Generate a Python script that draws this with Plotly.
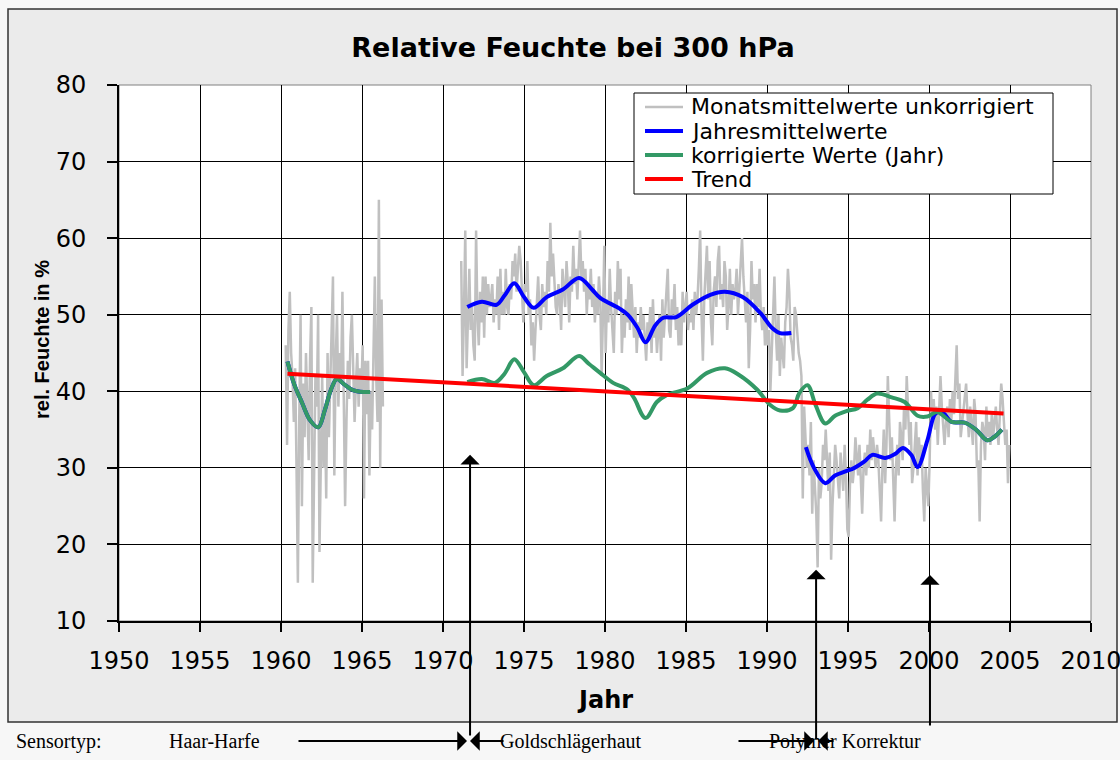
import plotly.graph_objects as go

# ---- uncorrected monthly means of relative humidity at 300 hPa (%) ----
# Haar-Harfe period, April 1960 - April 1966
monthly_1960 = [
    46, 33, 48, 53, 45, 42, 36, 43, 30,
    15, 36, 50, 25, 41, 34, 45, 38, 31, 44, 51, 15,
    33, 42, 38, 50, 19, 28, 42, 30, 38, 26, 45, 34,
    40, 47, 55, 29, 44, 50, 38, 45, 41, 53, 42, 25,
    36, 44, 39, 47, 50, 42, 36, 41, 45, 38, 43, 40,
    46, 26, 44, 37, 44, 29, 40, 35, 45, 55, 42, 36,
    65, 30, 52, 38,
]
# Goldschlaegerhaut period, February 1971 - December 1991
monthly_1971 = [
    57, 42, 50, 61, 43, 52, 56, 48, 51, 46, 44,
    61, 50, 46, 53, 49, 55, 47, 55, 50, 54, 51, 52,
    54, 49, 52, 50, 55, 48, 56, 50, 53, 50, 56, 51,
    50, 54, 52, 57, 55, 58, 53, 56, 59, 57, 52, 49,
    54, 53, 57, 50, 52, 46, 49, 44, 48, 51, 55, 50,
    48, 54, 51, 53, 50, 57, 53, 62, 55, 58, 54, 51,
    50, 54, 52, 48, 56, 53, 51, 57, 54, 49, 55, 53,
    59, 54, 56, 52, 58, 61, 55, 57, 53, 56, 50, 54,
    52, 56, 51, 54, 49, 53, 50, 55, 52, 42, 50, 59,
    45, 52, 49, 56, 51, 48, 45, 53, 50, 57, 52, 56,
    45, 50, 47, 52, 49, 55, 48, 54, 50, 47, 51, 45,
    49, 47, 51, 48, 50, 46, 44, 49, 47, 51, 45, 52,
    47, 49, 45, 48, 50, 44, 52, 47, 50, 54, 56, 48,
    47, 52, 50, 54, 48, 51, 46, 50, 46, 53, 49, 51,
    53, 48, 50, 49, 52, 48, 53, 50, 52, 56, 61, 50,
    44, 52, 56, 59, 52, 57, 49, 46, 53, 55, 51, 57,
    59, 52, 54, 51, 57, 55, 48, 51, 56, 50, 54, 52,
    53, 56, 50, 54, 57, 60, 55, 52, 49, 53, 43, 48,
    57, 52, 54, 49, 54, 51, 56, 50, 48, 51, 46, 50,
    46, 48, 40, 45, 51, 55, 48, 44, 50, 42, 47, 45,
    43, 49, 51, 56, 53, 47, 46, 44, 51, 50, 47, 45,
]
# Polymer period, January 1992 - December 2004
monthly_1992 = [
    44, 42, 26, 38, 34, 30, 33, 29, 36, 24, 31, 28,
    24, 17, 30, 26, 28, 33, 31, 35, 30, 27, 32, 18,
    25, 30, 33, 31, 29, 26, 32, 30, 27, 33, 29, 22,
    21, 28, 31, 28, 30, 34, 31, 29, 33, 27, 24, 30,
    32, 29, 33, 30, 35, 31, 34, 32, 30, 33, 31, 27,
    23, 30, 35, 28, 33, 42, 36, 31, 34, 28, 23, 30,
    33, 29, 36, 34, 31, 38, 35, 42, 37, 33, 36, 28,
    30, 33, 36, 29, 34, 31, 33, 27, 23, 30, 28, 25,
    31, 40, 36, 39, 35, 38, 33, 37, 42, 38, 35, 33,
    36, 38, 34, 39, 36, 40, 37, 42, 46, 39, 41, 34,
    36, 38, 40, 41, 37, 34, 38, 36, 33, 39, 37, 30,
    31, 23, 33, 36, 35, 31, 38, 34, 36, 33, 37, 34,
    36, 38, 35, 33, 37, 41, 39, 36, 33, 35, 28, 33,
]

# ---- corrected annual values (smoothed) ----
corr_years_60 = [1960.4, 1960.8, 1961.3, 1961.8, 1962.3, 1962.7, 1963.1, 1963.45,
                 1963.9, 1964.3, 1964.7, 1965.1, 1965.5]
corr_vals_60 = [43.9, 41.0, 38.5, 36.2, 35.3, 37.5, 40.3, 41.6,
                40.9, 40.3, 40.0, 39.9, 39.9]
corr_years_71 = [1971.5, 1972.4, 1973.2, 1973.8, 1974.4, 1975.0, 1975.6, 1976.4,
                 1977.4, 1978.4, 1979.0, 1979.7, 1980.5, 1981.4, 1981.8, 1982.5,
                 1983.2, 1983.8, 1985.1, 1986.3, 1987.4, 1988.3, 1989.4, 1990.2,
                 1990.8, 1991.6, 1992.0, 1992.5, 1993.0, 1993.6, 1994.2, 1994.9,
                 1995.6, 1996.2, 1996.8, 1997.7, 1998.5, 1999.3, 1999.9, 2000.5,
                 2001.4, 2002.2, 2002.9, 2003.6, 2004.0, 2004.5]
corr_vals_71 = [41.2, 41.6, 41.1, 42.3, 44.2, 42.5, 40.8, 42.0,
                43.0, 44.6, 43.6, 42.4, 41.1, 40.2, 39.1, 36.5,
                38.6, 39.5, 40.4, 42.4, 43.0, 42.1, 40.2, 38.2,
                37.5, 37.8, 39.8, 40.8, 38.2, 35.8, 36.8, 37.4,
                37.8, 38.9, 39.7, 39.2, 38.6, 36.8, 36.7, 37.3,
                36.0, 35.9, 35.0, 33.6, 34.0, 35.0]

# ---- uncorrected annual means (smoothed) ----
annual_years_71 = [1971.5, 1972.4, 1973.3, 1973.8, 1974.4, 1975.0, 1975.6, 1976.4,
                   1977.4, 1978.4, 1979.2, 1979.7, 1980.9, 1981.4, 1982.0, 1982.5,
                   1983.1, 1983.6, 1984.4, 1985.4, 1986.5, 1987.4, 1988.5, 1989.6,
                   1990.3, 1990.8, 1991.5]
annual_vals_71 = [51.0, 51.7, 51.3, 52.5, 54.1, 52.3, 50.9, 52.3,
                  53.3, 54.8, 53.3, 52.2, 50.8, 50.0, 48.3, 46.4,
                  48.6, 49.6, 49.7, 51.3, 52.6, 53.0, 52.3, 50.2,
                  48.3, 47.6, 47.6]
annual_years_92 = [1992.4, 1992.9, 1993.6, 1994.2, 1994.8, 1995.4, 1996.0, 1996.5,
                   1997.3, 1997.9, 1998.4, 1998.9, 1999.3, 1999.9, 2000.4, 2000.8,
                   2001.4, 2002.2, 2002.9, 2003.6, 2004.0, 2004.5]
annual_vals_92 = [32.7, 30.0, 28.0, 29.0, 29.5, 30.0, 30.8, 31.7,
                  31.3, 31.8, 32.6, 31.7, 30.1, 33.6, 37.1, 37.3,
                  36.0, 35.9, 35.0, 33.6, 34.0, 35.0]

# ---- linear trend ----
trend_years = [1960.4, 2004.6]
trend_vals = [42.3, 37.1]

# ---- sensor changes (year, arrow tip value) ----
sensor_change_years = [1971.67, 1993.03, 2000.06]
sensor_change_tips = [31.7, 16.7, 16.0]

series_names = ["Monatsmittelwerte unkorrigiert", "Jahresmittelwerte",
                "korrigierte Werte (Jahr)", "Trend"]
series_colors = ["#c0c0c0", "#0000ff", "#339966", "#ff0000"]
series_widths = [2.5, 4, 4, 4]


def month_axis(start_year, start_month, n):
    return [start_year + (start_month - 1 + i + 0.5) / 12 for i in range(n)]


def join(*parts):
    xs, ys = [], []
    for k, (x, y) in enumerate(parts):
        if k:
            xs.append(None)
            ys.append(None)
        xs += list(x)
        ys += list(y)
    return xs, ys


gx, gy = join(
    (month_axis(1960, 4, len(monthly_1960)), monthly_1960),
    (month_axis(1971, 2, len(monthly_1971)) + month_axis(1992, 1, len(monthly_1992)),
     monthly_1971 + monthly_1992),
)
bx, by = join((corr_years_60, corr_vals_60),
              (annual_years_71, annual_vals_71),
              (annual_years_92, annual_vals_92))
cx, cy = join((corr_years_60, corr_vals_60), (corr_years_71, corr_vals_71))

fig = go.Figure()
shapes_kw = [dict(), dict(shape="spline", smoothing=1), dict(shape="spline", smoothing=1), dict()]
for (x, y), name, col, w, kw in zip([(gx, gy), (bx, by), (cx, cy), (trend_years, trend_vals)],
                                    series_names, series_colors, series_widths, shapes_kw):
    fig.add_trace(go.Scatter(x=x, y=y, mode="lines", name=name, showlegend=False,
                             line=dict(color=col, width=w, **kw), connectgaps=False))

# pixel geometry of the plot area
L, R, T, B = 119, 1091, 85, 621
W, H = R - L, B - T


def px(x):
    return (x - L) / W


def py(y):
    return (B - y) / H


tick_font = dict(family="DejaVu Sans", size=24, color="black")
axis_common = dict(showgrid=True, gridcolor="black", gridwidth=1, showline=True,
                   linecolor="black", linewidth=2, ticks="outside", tickwidth=2,
                   tickcolor="black", tickfont=tick_font, zeroline=False, fixedrange=True,
                   ticklabeloverflow="allow", automargin=False)

fig.update_layout(
    width=1120, height=760, autosize=False,
    margin=dict(l=L, r=1120 - R, t=T, b=760 - B, pad=0),
    paper_bgcolor="#f7f7f7", plot_bgcolor="white",
    xaxis=dict(range=[1950, 2010], tick0=1950, dtick=5, ticklen=9,
               ticklabelstandoff=8, **axis_common),
    yaxis=dict(range=[10, 80], tick0=10, dtick=10, ticklen=10,
               ticklabelstandoff=16, **axis_common),
    title=dict(text="Relative Feuchte bei 300 hPa", xref="container", yref="container",
               x=573 / 1120, y=1 - 48 / 760, xanchor="center", yanchor="middle",
               font=dict(family="DejaVu Sans", size=27, weight="bold", color="black"),
               automargin=False),
    showlegend=False,
)

shapes = []
# grey chart frame, then the white plotting area on top of it
shapes.append(dict(type="rect", xref="paper", yref="paper", layer="below",
                   x0=px(8), x1=px(1117), y0=py(722), y1=py(9),
                   fillcolor="#ebebeb", line=dict(color="#333333", width=1.5)))
shapes.append(dict(type="rect", xref="paper", yref="paper", layer="below",
                   x0=0, x1=1, y0=0, y1=1, fillcolor="white",
                   line=dict(color="#808080", width=1)))

# legend box
shapes.append(dict(type="rect", xref="paper", yref="paper", layer="above",
                   x0=px(634), x1=px(1053), y0=py(194), y1=py(93),
                   fillcolor="white", line=dict(color="black", width=1)))

ann = []
for i, (name, col, w) in enumerate(zip(series_names, series_colors, series_widths)):
    yrow = 107 + 24 * i
    shapes.append(dict(type="line", xref="paper", yref="paper", layer="above",
                       x0=px(645), x1=px(683), y0=py(yrow), y1=py(yrow),
                       line=dict(color=col, width=w)))
    ann.append(dict(text=name, xref="paper", yref="paper", x=px(689), y=py(yrow),
                    xanchor="left", yanchor="middle", showarrow=False,
                    font=dict(family="DejaVu Sans", size=22, color="black")))

ann.append(dict(text="rel. Feuchte in %", xref="paper", yref="paper", x=px(42), y=py(340),
                textangle=-90, showarrow=False, xanchor="center", yanchor="middle",
                font=dict(family="Liberation Sans", size=20, weight="bold", color="black")))
ann.append(dict(text="Jahr", xref="paper", yref="paper", x=px(605), y=py(700),
                showarrow=False, xanchor="center", yanchor="middle",
                font=dict(family="DejaVu Sans", size=24, weight="bold", color="black")))

serif = dict(family="Liberation Serif", size=20, color="black")
row_y = py(741)
for label, left in [("Sensortyp:", 14), ("Haar-Harfe", 167),
                    ("Goldschlägerhaut", 498), ("Polymer Korrektur", 767)]:
    ann.append(dict(text=label, xref="paper", yref="paper", x=px(left), y=row_y,
                    xanchor="left", yanchor="middle", showarrow=False, font=serif))

# vertical arrows marking the sensor changes
tails = [737, 741, 727]
for yr, tip, tail in zip(sensor_change_years, sensor_change_tips, tails):
    tip_px = B - (tip - 10) / 70 * H
    ann.append(dict(x=yr, y=tip, xref="x", yref="y", text="", showarrow=True,
                    ax=0, ay=tail - tip_px, arrowhead=1, arrowsize=1.6, arrowwidth=2,
                    arrowcolor="black"))

# horizontal arrows along the sensor row
for head, dx in [(467, -170), (470, 35), (814, -77), (818, 17)]:
    ann.append(dict(x=px(head), y=row_y, xref="paper", yref="paper", text="",
                    showarrow=True, ax=dx, ay=0, arrowhead=1, arrowsize=1.8,
                    arrowwidth=1.8, arrowcolor="black"))

fig.update_layout(annotations=ann, shapes=shapes)

fig.write_html("out.html")
